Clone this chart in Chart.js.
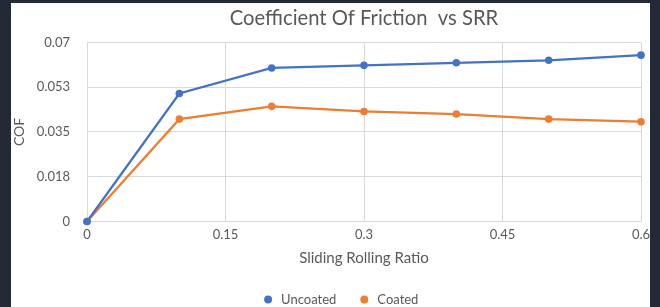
<!DOCTYPE html>
<html>
<head>
<meta charset="utf-8">
<title>Coefficient Of Friction vs SRR</title>
<script src="https://cdn.jsdelivr.net/npm/chart.js@4"></script>
<style>
    html, body {
        margin: 0;
        padding: 0;
        width: 660px;
        height: 307px;
        overflow: hidden;
        background: #232a36;
    }
    #marco {
        position: absolute;
        left: 11px;
        top: 3px;
        width: 649px;
        height: 313px;
        background: #ffffff;
    }
    #borde {
        position: absolute;
        left: 650px;
        top: 0;
        width: 10px;
        height: 307px;
        background: #232a36;
    }
</style>
</head>
<body>
<div id="marco">
    <canvas id="cofChart" width="649" height="313"></canvas>
</div>
<div id="borde"></div>

<script>
// ==============================
// DATOS
// ==============================
const srr = [0, 0.1, 0.2, 0.3, 0.4, 0.5, 0.6];
const uncoated = [0, 0.050, 0.060, 0.061, 0.062, 0.063, 0.065];
const coated = [0, 0.040, 0.045, 0.043, 0.042, 0.040, 0.039];

const xTickValues = [0, 0.15, 0.3, 0.45, 0.6];
const xTickLabels = ['0', '0.15', '0.3', '0.45', '0.6'];
const yTickValues = [0, 0.0175, 0.035, 0.0525, 0.07];
const yTickLabels = ['0', '0.018', '0.035', '0.053', '0.07'];

const texto = '#595959';
const rejilla = '#d9d9d9';
const fuente = 'Lato, "Open Sans", sans-serif';

function puntos(valores) {
    return srr.map((x, i) => ({ x: x, y: valores[i] }));
}

function serie(nombre, valores, color) {
    return {
        label: nombre,
        data: puntos(valores),
        borderColor: color,
        backgroundColor: color,
        borderWidth: 2.25,
        pointRadius: 3.8,
        pointHoverRadius: 3.8,
        pointBorderWidth: 0,
        pointStyle: 'circle',
        tension: 0,
        clip: false
    };
}

// la leyenda va un poco a la derecha del centro del lienzo
const moverLeyenda = {
    id: 'moverLeyenda',
    afterLayout(chart) {
        chart.legend.left += 28;
    }
};

// ==============================
// GRAFICA
// ==============================
new Chart(document.getElementById('cofChart'), {
    type: 'line',
    data: {
        datasets: [
            serie('Uncoated', uncoated, '#4472c4'),
            serie('Coated', coated, '#ed7d31')
        ]
    },
    options: {
        responsive: false,
        animation: false,
        layout: {
            padding: { left: 0, right: 19, top: 0, bottom: 0 }
        },
        plugins: {
            title: {
                display: true,
                text: 'Coefficient Of Friction  vs SRR',
                fullSize: false,
                color: texto,
                font: { family: fuente, size: 20.2, weight: 'normal' },
                padding: { top: 2.9, bottom: 12.2 }
            },
            legend: {
                position: 'bottom',
                labels: {
                    usePointStyle: true,
                    pointStyle: 'circle',
                    boxWidth: 13,
                    boxHeight: 5.6,
                    padding: 21.5,
                    color: texto,
                    font: { family: fuente, size: 13 }
                }
            },
            tooltip: { enabled: false }
        },
        scales: {
            x: {
                type: 'linear',
                min: 0,
                max: 0.6,
                afterBuildTicks: s => { s.ticks = xTickValues.map(v => ({ value: v })); },
                afterFit: s => { s.height = 50; },
                grid: { color: rejilla, lineWidth: 1, drawTicks: false },
                border: { color: rejilla },
                ticks: {
                    padding: 6,
                    color: texto,
                    font: { family: fuente, size: 13 },
                    maxRotation: 0,
                    callback: (v, i) => xTickLabels[i]
                },
                title: {
                    display: true,
                    text: 'Sliding Rolling Ratio',
                    color: texto,
                    font: { family: fuente, size: 15 },
                    padding: { top: 0, bottom: 4.5 }
                }
            },
            y: {
                min: 0,
                max: 0.07,
                afterBuildTicks: s => { s.ticks = yTickValues.map(v => ({ value: v })); },
                afterFit: s => { s.width = 76; },
                grid: { color: rejilla, lineWidth: 1, drawTicks: false },
                border: { color: rejilla },
                ticks: {
                    padding: 17,
                    color: texto,
                    font: { family: fuente, size: 13 },
                    callback: (v, i) => yTickLabels[i]
                },
                title: {
                    display: true,
                    text: 'COF',
                    color: texto,
                    font: { family: fuente, size: 14 },
                    padding: { top: 0, bottom: 0 }
                }
            }
        }
    },
    plugins: [moverLeyenda]
});
</script>
</body>
</html>
